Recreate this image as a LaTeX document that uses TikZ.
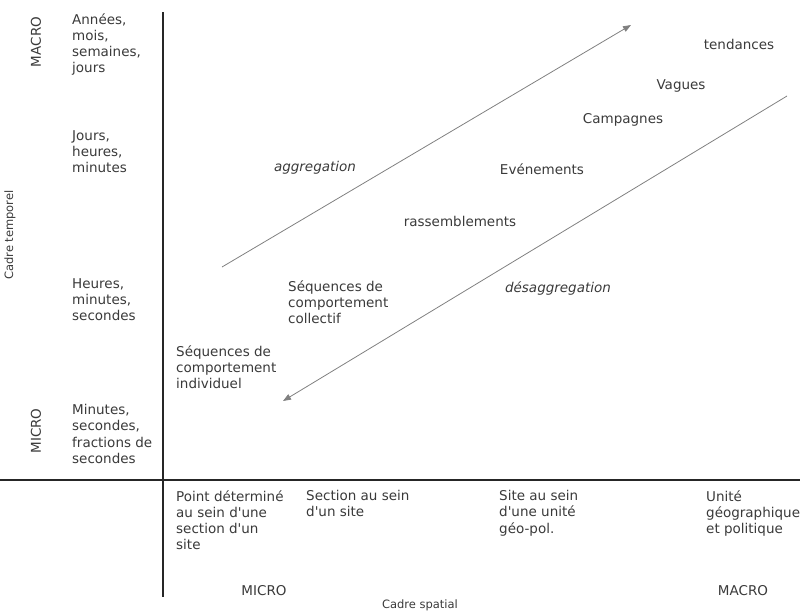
\documentclass[tikz,border=0pt]{standalone}
\usepackage{fontspec}
\setmainfont{DejaVu Sans}
\usepackage{xcolor}
\usetikzlibrary{arrows.meta}
\definecolor{txtgray}{HTML}{3A3A3A}
\definecolor{arrgray}{HTML}{808080}

\begin{document}
\begin{tikzpicture}[x=1pt,y=-1pt,
    every node/.style={text=txtgray,inner sep=0pt,font=\fontsize{13.5}{16.3}\selectfont},
    lbl/.style={anchor=north west,align=left},
    axtitle/.style={font=\fontsize{11.5}{13}\selectfont},
    trend/.style={draw=arrgray,line width=0.8pt,-{Triangle[length=8pt,width=6pt]}}]
        \useasboundingbox (0,0) rectangle (800,614);
        \draw[line width=2pt,black!85] (163,12) -- (163,597);
        \draw[line width=2pt,black!85] (0,480) -- (800,480);
        % axe temporel
        \node[axtitle,rotate=90] (cadreT) at (10,235) {Cadre temporel};
        \node[rotate=90] (macroT) at (36,42) {MACRO};
        \node[rotate=90] (microT) at (36,431) {MICRO};
        \node[lbl] (annees) at (72,13) {Années,\\mois,\\semaines,\\jours};
        \node[lbl] (jours) at (72,130) {Jours,\\heures,\\minutes};
        \node[lbl] (heures) at (72,278) {Heures,\\minutes,\\secondes};
        \node[lbl] (minutes) at (72,404) {Minutes,\\secondes,\\fractions de\\secondes};
        % axe spatial
        \node[lbl] (point) at (176,490) {Point déterminé\\au sein d\textquotesingle une\\section d\textquotesingle un\\site};
        \node[lbl] (section) at (306,490) {Section au sein\\d\textquotesingle un site};
        \node[lbl] (site) at (499,490) {Site au sein\\d\textquotesingle une unité\\géo-pol.};
        \node[lbl] (unite) at (706,490) {Unité\\géographique\\et politique};
        \node (microS) at (264,591) {MICRO};
        \node (macroS) at (743,591) {MACRO};
        \node[axtitle] (cadreS) at (420,605) {Cadre spatial};
        % phenomenes
        \node (tendances) at (739,44) {tendances};
        \node (vagues) at (681,86) {Vagues};
        \node (campagnes) at (623,120) {Campagnes};
        \node (evenements) at (542,169) {Evénements};
        \node (rassemblements) at (460,221) {rassemblements};
        \node[lbl] (seqcoll) at (288,280) {Séquences de\\comportement\\collectif};
        \node[lbl] (seqind) at (176,345) {Séquences de\\comportement\\individuel};
        \node[font=\fontsize{13.5}{16.3}\selectfont\itshape] (aggr) at (315,168) {aggregation};
        \node[font=\fontsize{13.5}{16.3}\selectfont\itshape] (desaggr) at (558,288) {désaggregation};
        % fleches
        \coordinate (aggrA) at (222,267);
        \coordinate (aggrB) at (631,25);
        \coordinate (desA) at (787,96);
        \coordinate (desB) at (283,401);
        \draw[trend] (aggrA) -- (aggrB);
        \draw[trend] (desA) -- (desB);
\end{tikzpicture}
\end{document}
